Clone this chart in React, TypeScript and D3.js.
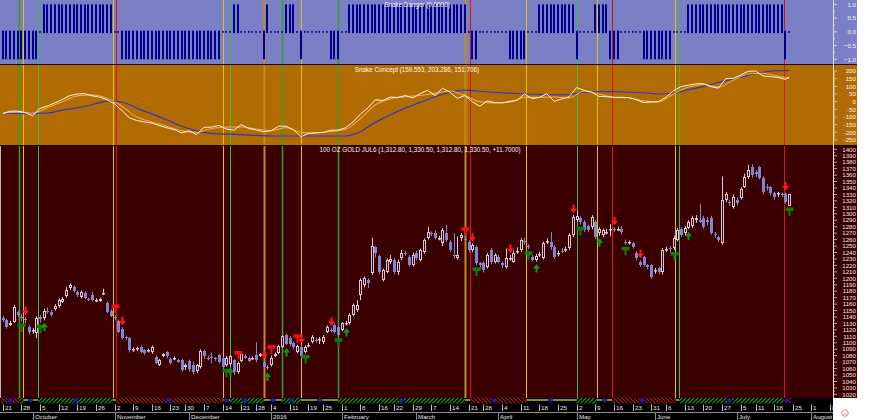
import React from "react";
import * as d3 from "d3";

// ---------------- data ----------------
const START_DATE = "2015-09-21";
const HOLIDAYS = ["2015-11-26", "2015-12-25", "2016-01-01", "2016-01-18", "2016-02-15", "2016-03-25", "2016-05-30", "2016-07-04"];
const MONTH_NAMES = ["January", "February", "March", "April", "May", "June", "July", "August", "September", "October", "November", "December"];

const OPEN = [
  1139, 1135, 1128, 1133, 1147, 1140, 1137, 1124, 1118, 1115,
  1140, 1138, 1150, 1148, 1153, 1157, 1164, 1172, 1185, 1186,
  1179, 1171, 1177, 1168, 1174, 1166, 1165, 1177, 1162, 1150,
  1140, 1134, 1122, 1109, 1107, 1089, 1090, 1094, 1089, 1088,
  1085, 1078, 1066, 1080, 1085, 1075, 1075, 1073, 1073, 1063,
  1072, 1066, 1057, 1063, 1087, 1077, 1078, 1076, 1081, 1076,
  1066, 1067, 1073, 1055, 1072, 1080, 1077, 1076, 1081, 1080,
  1070, 1063, 1065, 1080, 1084, 1094, 1112, 1108, 1100, 1086,
  1094, 1086, 1096, 1101, 1105, 1104, 1101, 1117, 1120, 1128,
  1124, 1120, 1130, 1130, 1143, 1151, 1174, 1190, 1197, 1208,
  1248, 1234, 1197, 1210, 1226, 1228, 1210, 1231, 1240, 1233,
  1221, 1240, 1228, 1241, 1263, 1270, 1271, 1262, 1254, 1270,
  1257, 1236, 1231, 1262, 1261, 1257, 1244, 1249, 1223, 1224,
  1218, 1244, 1226, 1233, 1224, 1218, 1230, 1226, 1241, 1244,
  1258, 1250, 1233, 1229, 1236, 1232, 1256, 1256, 1249, 1238,
  1243, 1244, 1247, 1267, 1290, 1293, 1287, 1281, 1280, 1287,
  1270, 1267, 1272, 1275, 1276, 1276, 1277, 1257, 1255, 1254,
  1240, 1226, 1233, 1220, 1220, 1211, 1216, 1210, 1244, 1247,
  1247, 1260, 1276, 1270, 1278, 1281, 1291, 1291, 1293, 1290,
  1294, 1269, 1264, 1255, 1322, 1318, 1311, 1322, 1325, 1342,
  1357, 1372, 1365, 1372, 1356, 1342, 1341, 1332, 1331, 1331,
  1331, 1312.8,
];
const HIGH = [
  1142, 1137, 1134, 1159, 1150, 1145, 1140, 1127, 1123, 1141,
  1143, 1153, 1155, 1151, 1160, 1169, 1171, 1187, 1192, 1189,
  1181, 1181, 1180, 1170, 1179, 1169, 1170, 1184, 1164, 1152,
  1143, 1136, 1124, 1111, 1109, 1093, 1094, 1096, 1090, 1091,
  1096, 1080, 1075, 1084, 1087, 1077, 1079, 1075, 1075, 1068,
  1074, 1070, 1067, 1090, 1089, 1080, 1085, 1078, 1083, 1078,
  1080, 1081, 1075, 1071, 1085, 1082, 1079, 1079, 1101, 1084,
  1072, 1065, 1080, 1085, 1097, 1112, 1114, 1110, 1102, 1097,
  1096, 1096, 1100, 1112, 1108, 1109, 1112, 1127, 1123, 1130,
  1126, 1132, 1134, 1146, 1161, 1166, 1200, 1203, 1200, 1263,
  1250, 1237, 1215, 1231, 1236, 1232, 1229, 1244, 1243, 1236,
  1240, 1243, 1246, 1262, 1280, 1273, 1274, 1266, 1278, 1283,
  1259, 1270, 1265, 1270, 1263, 1259, 1254, 1251, 1225, 1226,
  1239, 1247, 1239, 1236, 1226, 1246, 1236, 1243, 1248, 1262,
  1263, 1253, 1236, 1238, 1241, 1257, 1262, 1272, 1251, 1243,
  1247, 1249, 1270, 1298, 1305, 1296, 1290, 1283, 1298, 1290,
  1279, 1277, 1276, 1284, 1279, 1280, 1281, 1260, 1259, 1256,
  1242, 1228, 1235, 1222, 1222, 1216, 1218, 1247, 1249, 1250,
  1266, 1278, 1279, 1281, 1290, 1297, 1298, 1316, 1297, 1295,
  1297, 1272, 1266, 1358, 1334, 1322, 1330, 1325, 1341, 1362,
  1376, 1377, 1368, 1374, 1358, 1346, 1343, 1334, 1334, 1333,
  1333, 1330.5,
];
const LOW = [
  1132, 1122, 1126, 1131, 1140, 1133, 1130, 1113, 1114, 1107,
  1131, 1135, 1145, 1141, 1150, 1154, 1162, 1170, 1182, 1178,
  1171, 1169, 1168, 1165, 1164, 1163, 1163, 1174, 1146, 1140,
  1135, 1115, 1105, 1104, 1085, 1086, 1087, 1084, 1081, 1085,
  1083, 1067, 1064, 1078, 1076, 1067, 1073, 1069, 1055, 1058,
  1055, 1051, 1053, 1060, 1075, 1073, 1068, 1072, 1068, 1060,
  1063, 1065, 1050, 1052, 1070, 1075, 1070, 1074, 1070, 1078,
  1060, 1058, 1063, 1078, 1082, 1092, 1096, 1095, 1090, 1084,
  1076, 1084, 1093, 1099, 1100, 1098, 1098, 1115, 1116, 1114,
  1110, 1118, 1127, 1128, 1141, 1148, 1166, 1186, 1185, 1205,
  1232, 1206, 1195, 1208, 1222, 1206, 1205, 1228, 1235, 1218,
  1218, 1228, 1226, 1238, 1260, 1265, 1260, 1259, 1250, 1256,
  1241, 1230, 1229, 1258, 1257, 1240, 1241, 1220, 1215, 1209,
  1215, 1222, 1223, 1223, 1216, 1215, 1227, 1224, 1238, 1241,
  1252, 1245, 1226, 1226, 1233, 1229, 1253, 1244, 1230, 1234,
  1239, 1241, 1244, 1264, 1287, 1283, 1272, 1272, 1276, 1261,
  1266, 1264, 1268, 1265, 1272, 1273, 1268, 1252, 1252, 1246,
  1228, 1218, 1218, 1214, 1199, 1207, 1206, 1206, 1241, 1240,
  1244, 1257, 1264, 1266, 1276, 1278, 1286, 1286, 1277, 1282,
  1267, 1263, 1256, 1252, 1318, 1312, 1308, 1313, 1322, 1340,
  1354, 1356, 1357, 1353, 1330, 1336, 1328, 1322, 1326, 1326,
  1316, 1312.8,
];
const CLOSE = [
  1135, 1125, 1131, 1156, 1143, 1138, 1135, 1116, 1120, 1139,
  1137, 1150, 1148, 1143, 1157, 1166, 1168, 1182, 1190, 1180,
  1174, 1179, 1170, 1167, 1166, 1167, 1168, 1177, 1148, 1142,
  1138, 1117, 1108, 1107, 1089, 1090, 1092, 1086, 1084, 1089,
  1094, 1069, 1073, 1082, 1079, 1069, 1077, 1071, 1058, 1065,
  1059, 1055, 1065, 1087, 1080, 1076, 1077, 1075, 1071, 1063,
  1077, 1079, 1055, 1068, 1082, 1077, 1072, 1077, 1073, 1082,
  1062, 1061, 1077, 1082, 1095, 1110, 1098, 1098, 1094, 1095,
  1079, 1094, 1097, 1109, 1104, 1106, 1109, 1124, 1119, 1117,
  1112, 1130, 1131, 1143, 1159, 1158, 1197, 1200, 1192, 1250,
  1239, 1210, 1213, 1228, 1230, 1210, 1226, 1240, 1239, 1221,
  1236, 1231, 1244, 1259, 1272, 1269, 1263, 1262, 1275, 1259,
  1244, 1234, 1236, 1267, 1260, 1244, 1252, 1223, 1221, 1213,
  1236, 1226, 1236, 1226, 1220, 1232, 1232, 1240, 1243, 1259,
  1256, 1248, 1229, 1235, 1238, 1254, 1258, 1249, 1233, 1240,
  1242, 1246, 1267, 1295, 1297, 1287, 1275, 1275, 1295, 1264,
  1276, 1275, 1272, 1276, 1275, 1277, 1272, 1255, 1256, 1249,
  1231, 1221, 1221, 1217, 1202, 1213, 1210, 1244, 1246, 1245,
  1262, 1275, 1267, 1278, 1287, 1293, 1294, 1288, 1280, 1288,
  1270, 1267, 1260, 1321, 1331, 1316, 1326, 1317, 1338, 1357,
  1368, 1360, 1362, 1356, 1334, 1340, 1332, 1326, 1332, 1330,
  1318.8, 1330.5,
];

// Snake Danger: one value per bar (+1 / 0 / -1)
const DANGER = [
  -1, -1, -1, -1, -1, -1, -1, -1, -1, -1,
  0, 1, 1, 1, 1, 1, 1, 1, 1, 1,
  1, 1, 1, 1, 1, 1, 1, 1, 1, 1,
  0, 0, -1, -1, -1, -1, -1, -1, -1, -1,
  -1, -1, -1, -1, -1, -1, -1, -1, -1, -1,
  -1, -1, -1, -1, -1, -1, -1, -1, -1, 0,
  0, 0, 1, 1, 0, 0, 0, 0, 0, 0,
  -1, 1, 0, 0, 0, 0, 1, 1, 1, 0,
  -1, 0, 0, 0, 0, 0, 0, 0, -1, -1,
  -1, 0, 0, 1, 1, 1, 1, 1, 1, 1,
  1, 1, 1, 1, 1, 1, 1, 1, 1, 1,
  1, 1, 1, 1, 1, 1, 1, 1, 1, 1,
  1, 1, 1, 1, 1, 0, -1, -1, 0, 0,
  0, 0, 0, 0, 0, 0, -1, -1, -1, -1,
  -1, 0, 0, 0, 1, 1, 1, 1, 1, 1,
  1, 1, 1, 1, -1, 0, 0, 0, 0, 1,
  1, 1, 1, -1, -1, -1, 0, 0, 0, 0,
  0, 0, -1, -1, -1, -1, -1, -1, -1, -1,
  0, 0, 0, 0, 1, 1, 1, 1, 1, 1,
  1, 1, 1, 1, 1, 1, 1, 1, 1, 1,
  1, 1, 1, 1, 1, 1, 1, 1, 1, 1,
  -1, 0,
];

// Snake Concept lines, sampled every FAST_STEP / SLOW_STEP bars (last value = last bar)
const FAST_STEP = 2;
const CONCEPT_FAST = [
  -78, -62, -62, -70, -92, -44, -28, -8, 14, 40,
  50, 52, 38, 30, 12, -14, -58, -105, -123, -132,
  -140, -155, -170, -182, -204, -190, -215, -168, -166, -155,
  -178, -186, -150, -174, -185, -196, -190, -160, -160, -182,
  -228, -208, -202, -200, -186, -186, -170, -132, -80, -40,
  12, 8, 30, 28, 40, 24, 52, 74, 40, 88,
  62, 22, 40, 0, -30, 5, -6, -8, 2, 8,
  50, 20, 28, 52, 2, 18, 32, 92, 74, 62,
  34, 33, 27, 27, 27, 12, -6, -2, 0, 30,
  72, 98, 108, 116, 118, 98, 88, 150, 152, 174,
  198, 200, 168, 163, 158, 145,
  159.553,
];
const SLOW_STEP = 4;
const CONCEPT_SLOW = [
  -75, -68, -75, -40, 0, 38, 44, 22, -30, -100,
  -132, -160, -190, -200, -175, -165, -165, -178, -188, -170,
  -200, -205, -195, -180, -110, -20, 18, 32, 40, 55,
  70, 40, 0, -8, -4, 28, 28, 30, 25, 70,
  50, 30, 26, 5, -2, 50, 95, 112, 95, 140,
  180, 185, 165,
  151.706,
];
const CONCEPT_BASE = [
  -76, -76, -76, -74, -55, -40, -20, 4, -2, -42,
  -80, -118, -160, -190, -207, -212, -215, -220, -224, -224,
  -224, -224, -224, -224, -195, -135, -85, -42, -5, 32,
  60, 75, 68, 60, 56, 50, 47, 45, 46, 62,
  65, 65, 62, 58, 50, 55, 78, 98, 125, 148,
  172, 192, 202,
  203.286,
];

// signal lines (bar index) and their kind
const SIGNAL_IDX = [4.5, 5.5, 9.5, 29.5, 30.5, 59, 61, 70, 75, 80, 90, 124, 125.5, 140.5, 154, 159.5, 163.5, 180.5, 181.5, 209.5];
const SIGNAL_KIND = ["G", "y", "g", "y", "r", "y", "g", "o", "G", "y", "G", "o", "r", "y", "g", "y", "r", "y", "g", "r"];
const STRIP_DOTS = [2, 7.5, 19.5, 44.5, 60, 65, 72.5, 77.5, 85, 107, 132, 147, 161.5, 171.5, 195, 210.5];

const RED_ARROWS = [6, 32, 70, 80, 88, 126, 136, 153, 164, 171, 210];
const GREEN_ARROWS = [11, 61, 71, 76, 92, 143, 160, 184];
const RED_FLAGS = [30, 63, 72, 79, 124];
const GREEN_FLAGS = [5, 10, 60, 81, 90, 127, 141, 155, 167, 180, 211];

const TOP_TICKS = [1, 0.5, 0, -0.5, -1];
const MID_TICKS = [200, 150, 100, 50, 0, -50, -100, -150, -200, -250];
const PRICE_TICKS = d3.range(1020, 1401, 10);

const TITLE_TOP = "Snake Danger (0.0000)";
const TITLE_MID = "Snake Concept (159.553, 203.286, 151.706)";
const TITLE_PRICE = "100 OZ GOLD JUL6 (1,312.80, 1,330.50, 1,312.80, 1,330.50, +11.7000)";

// ---------------- layout / style ----------------
const PLOT_R = 833;
const AXIS_R = 857;
const TOP_Y0 = 0, TOP_Y1 = 64;
const MID_Y0 = 64, MID_Y1 = 145;
const PR_Y0 = 145, PR_Y1 = 398;
const STRIP_Y1 = 404;

const C_TOP = "#7b80c6";
const C_MID = "#b06c02";
const C_PRICE = "#3a0000";
const C_BAR = "#00008c";
const UP_COL = "#dcc6dc";
const DN_COL = "#7f86d6";
const FONT = "'Liberation Sans', Arial, sans-serif";
const KIND_COL: Record<string, string> = { g: "#3cc03c", G: "#3a9c2a", y: "#e2c400", r: "#e01010", o: "#c48a1c" };
const KIND_W: Record<string, number> = { g: 1, G: 1.5, y: 1, r: 1, o: 2 };

function tradingDays(start: string, count: number, holidays: string[]) {
  const out: Date[] = [];
  const hs = new Set(holidays);
  const d = new Date(start + "T00:00:00Z");
  while (out.length < count) {
    const wd = d.getUTCDay();
    const iso = d.toISOString().slice(0, 10);
    if (wd !== 0 && wd !== 6 && !hs.has(iso)) out.push(new Date(d.getTime()));
    d.setUTCDate(d.getUTCDate() + 1);
  }
  return out;
}

export default function App() {
  const n = CLOSE.length;
  const x = d3.scaleLinear().domain([0, n - 1]).range([2.7, 789.1]);
  const yTop = d3.scaleLinear().domain([-1, 1]).range([59.3, 4.4]);
  const yMid = d3.scaleLinear().domain([-250, 200]).range([140.0, 71.0]);
  const yP = d3.scaleLinear().domain([1020, 1400]).range([394.4, 149.3]);
  const px = (i: number) => Math.round(x(i));

  const days = tradingDays(START_DATE, 226, HOLIDAYS);
  const lastAxisIdx = days.length - 1;

  const weekLabels: { i: number; t: string }[] = [];
  const monthLabels: { i: number; t: string }[] = [];
  days.forEach((d, i) => {
    const prev = i > 0 ? days[i - 1] : null;
    if (!prev || d.getUTCDay() <= prev.getUTCDay()) weekLabels.push({ i, t: String(d.getUTCDate()) });
    if (prev && d.getUTCMonth() !== prev.getUTCMonth()) {
      const m = d.getUTCMonth();
      monthLabels.push({ i, t: m === 0 ? String(d.getUTCFullYear()) : MONTH_NAMES[m] });
    }
  });

  const sampleIdx = (k: number, step: number) => Math.min(k * step, n - 1);
  const fastLine = d3.line<number>().x((_, k) => x(sampleIdx(k, FAST_STEP))).y((v) => yMid(v));
  const smoothLine = d3
    .line<number>()
    .x((_, k) => x(sampleIdx(k, SLOW_STEP)))
    .y((v) => yMid(v))
    .curve(d3.curveMonotoneX);

  // strip segments from signals
  const stateOf = (k: string) => (k === "g" || k === "G" ? "up" : k === "r" ? "down" : "flat");
  const segs: { a: number; b: number; s: string }[] = [];
  let prevIdx = -0.5;
  let st = "down";
  SIGNAL_IDX.forEach((si, k) => {
    segs.push({ a: prevIdx, b: si, s: st });
    prevIdx = si;
    st = stateOf(SIGNAL_KIND[k]);
  });
  segs.push({ a: prevIdx, b: n - 0.5, s: st });

  const arrowDown = (cx: number, tip: number) =>
    `M${cx - 1},${tip - 8.5}h2v4h2.5l-3.5,4.5l-3.5,-4.5h2.5z`;
  const arrowUp = (cx: number, tip: number) =>
    `M${cx},${tip}l3.5,4.5h-2.5v4h-2v-4h-2.5z`;
  const flag = (cx: number, top: number) =>
    `M${cx - 4},${top}h8v3.5h-3v5h-2v-5h-3z`;

  return (
    <svg
      width={880}
      height={420}
      viewBox="0 0 880 420"
      style={{ position: "absolute", left: 0, top: 0, display: "block", background: "#ffffff" }}
      fontFamily={FONT}
    >
      <defs>
        <clipPath id="clipTop"><rect x={0} y={TOP_Y0} width={PLOT_R} height={TOP_Y1 - TOP_Y0} /></clipPath>
        <clipPath id="clipMid"><rect x={0} y={MID_Y0} width={PLOT_R} height={MID_Y1 - MID_Y0} /></clipPath>
        <clipPath id="clipPrice"><rect x={0} y={PR_Y0} width={PLOT_R} height={PR_Y1 - PR_Y0} /></clipPath>
        <clipPath id="clipAxis"><rect x={0} y={PR_Y1} width={PLOT_R} height={420 - PR_Y1} /></clipPath>
        <pattern id="hatchUp" width={4} height={4} patternUnits="userSpaceOnUse">
          <path d="M-1,1 l2,-2 M0,4 l4,-4 M3,5 l2,-2" stroke="#1f9e1f" strokeWidth={1.1} />
        </pattern>
        <pattern id="hatchDn" width={4} height={4} patternUnits="userSpaceOnUse">
          <path d="M-1,3 l2,2 M0,0 l4,4 M3,-1 l2,2" stroke="#c81414" strokeWidth={1.1} />
        </pattern>
      </defs>

      {/* panel backgrounds */}
      <rect x={0} y={TOP_Y0} width={AXIS_R} height={TOP_Y1 - TOP_Y0} fill={C_TOP} />
      <rect x={0} y={MID_Y0} width={AXIS_R} height={MID_Y1 - MID_Y0} fill={C_MID} />
      <rect x={0} y={PR_Y0} width={AXIS_R} height={PR_Y1 - PR_Y0} fill={C_PRICE} />
      <rect x={0} y={PR_Y1} width={PLOT_R} height={420 - PR_Y1} fill="#000000" />

      {/* signal lines */}
      <g clipPath="url(#clipAxis)" />
      {SIGNAL_IDX.map((si, k) => {
        const xx = Math.round(x(si)) + 0.5;
        return (
          <line
            key={"sig" + k}
            x1={xx}
            x2={xx}
            y1={0}
            y2={PR_Y1}
            stroke={KIND_COL[SIGNAL_KIND[k]]}
            strokeWidth={KIND_W[SIGNAL_KIND[k]]}
          />
        );
      })}

      {/* Snake Danger bars */}
      <g clipPath="url(#clipTop)">
        {DANGER.map((v, i) => {
          const r = px(i);
          if (v > 0) return <rect key={i} x={r - 1} y={yTop(1)} width={2} height={yTop(0) + 1.2 - yTop(1)} fill={C_BAR} />;
          if (v < 0) return <rect key={i} x={r - 1} y={yTop(0) - 1.2} width={2} height={yTop(-1) - yTop(0) + 1.2} fill={C_BAR} />;
          return <rect key={i} x={r - 1} y={yTop(0) - 0.6} width={2} height={1.4} fill={C_BAR} />;
        })}
      </g>

      {/* Snake Concept lines */}
      <g clipPath="url(#clipMid)" fill="none">
        <path d={smoothLine(CONCEPT_BASE) || ""} stroke="#3434c8" strokeWidth={1.2} />
        <path d={smoothLine(CONCEPT_SLOW) || ""} stroke="#f2a650" strokeWidth={1.1} />
        <path d={fastLine(CONCEPT_FAST) || ""} stroke="#fff4e0" strokeWidth={1} />
      </g>

      {/* candles */}
      <g clipPath="url(#clipPrice)">
        {CLOSE.map((c, i) => {
          const o = OPEN[i], h = HIGH[i], l = LOW[i];
          const r = px(i);
          const up = c >= o;
          const y1 = Math.round(yP(Math.max(o, c)));
          const y2 = Math.round(yP(Math.min(o, c)));
          const bh = Math.max(1, y2 - y1);
          const col = up ? UP_COL : DN_COL;
          return (
            <g key={"c" + i}>
              <line x1={r + 0.5} x2={r + 0.5} y1={yP(h)} y2={yP(l)} stroke={col} strokeWidth={1} />
              {up ? (
                <rect x={r - 0.5} y={y1 + 0.5} width={2} height={Math.max(0.5, bh - 1)} fill={C_PRICE} stroke={col} strokeWidth={1} />
              ) : (
                <rect x={r - 1} y={y1} width={3} height={bh} fill={col} />
              )}
            </g>
          );
        })}

        {/* markers */}
        {RED_FLAGS.map((i) => (
          <path key={"rf" + i} d={flag(px(i) + 0.5, yP(HIGH[i]) - 10.5)} fill="#ee1111" />
        ))}
        {RED_ARROWS.map((i) => (
          <path key={"ra" + i} d={arrowDown(px(i) + 0.5, yP(HIGH[i]) - 2)} fill="#ff1a1a" />
        ))}
        {GREEN_FLAGS.map((i) => (
          <path key={"gf" + i} d={flag(px(i) + 0.5, yP(LOW[i]) + 2)} fill="#0b7d0b" />
        ))}
        {GREEN_ARROWS.map((i) => (
          <path key={"ga" + i} d={arrowUp(px(i) + 0.5, yP(LOW[i]) + 2.5)} fill="#12961a" />
        ))}
      </g>

      {/* left edge */}
      <line x1={0.5} x2={0.5} y1={PR_Y0} y2={PR_Y1} stroke="#b8b8b8" strokeWidth={1} />

      {/* panel separators */}
      <line x1={0} x2={AXIS_R} y1={TOP_Y1 + 0.5} y2={TOP_Y1 + 0.5} stroke="#1a0a00" strokeWidth={1} />
      <line x1={0} x2={AXIS_R} y1={MID_Y1 + 0.5} y2={MID_Y1 + 0.5} stroke="#200000" strokeWidth={1} />

      {/* bottom strip */}
      <g clipPath="url(#clipAxis)">
        {segs.map((s, k) => {
          const xa = x(s.a), xb = x(s.b);
          if (s.s === "flat")
            return <rect key={"sg" + k} x={xa} y={PR_Y1 + 1} width={Math.max(0, xb - xa)} height={2} fill="#8c8a10" />;
          return (
            <rect
              key={"sg" + k}
              x={xa}
              y={PR_Y1}
              width={Math.max(0, xb - xa)}
              height={STRIP_Y1 - PR_Y1 - 0.5}
              fill={s.s === "up" ? "url(#hatchUp)" : "url(#hatchDn)"}
            />
          );
        })}
        {STRIP_DOTS.map((di, k) => (
          <circle key={"dt" + k} cx={x(di)} cy={PR_Y1 + 2.2} r={2.2} fill="#1c1cd0" stroke="#05055a" strokeWidth={0.6} />
        ))}

        {/* date axis */}
        {weekLabels.map((w) => {
          const xx = Math.round(x(w.i)) + 0.5;
          return (
            <g key={"w" + w.i}>
              <line x1={xx} x2={xx} y1={404.5} y2={411} stroke="#bdbdbd" strokeWidth={1} />
              <text x={xx + 1.5} y={410.3} fontSize={6.2} fill="#e6e6e6">{w.t}</text>
            </g>
          );
        })}
        <line x1={0} x2={PLOT_R} y1={412.5} y2={412.5} stroke="#8a8a8a" strokeWidth={1} />
        {monthLabels.map((m) => {
          const xx = Math.round(x(m.i)) + 0.5;
          return (
            <g key={"m" + m.i}>
              <line x1={xx} x2={xx} y1={412.5} y2={420} stroke="#8a8a8a" strokeWidth={1} />
              <text x={xx + 1.5} y={419.2} fontSize={6.2} fill="#e6e6e6">{m.t}</text>
            </g>
          );
        })}
      </g>

      {/* right axes */}
      <line x1={PLOT_R + 0.5} x2={PLOT_R + 0.5} y1={0} y2={PR_Y1} stroke="#e4e4e4" strokeWidth={1} />
      {d3.range(-1, 1.001, 0.25).map((v) => (
        <line key={"tt" + v} x1={PLOT_R} x2={PLOT_R + (v % 0.5 === 0 ? 4 : 2)} y1={yTop(v)} y2={yTop(v)} stroke="#e4e4e4" strokeWidth={0.8} />
      ))}
      {TOP_TICKS.map((v) => (
        <text key={"tl" + v} x={AXIS_R - 1} y={yTop(v) + 2.2} fontSize={6.2} fill="#f4f4f4" textAnchor="end">
          {d3.format(".1f")(v)}
        </text>
      ))}
      {d3.range(-250, 201, 10).map((v) => (
        <line key={"mt" + v} x1={PLOT_R} x2={PLOT_R + (v % 50 === 0 ? 4 : 2)} y1={yMid(v)} y2={yMid(v)} stroke="#ead8c0" strokeWidth={0.7} />
      ))}
      {MID_TICKS.map((v) => (
        <text key={"ml" + v} x={AXIS_R - 1} y={yMid(v) + 2.2} fontSize={6.2} fill="#f4f4f4" textAnchor="end">
          {v}
        </text>
      ))}
      {d3.range(1020, 1401, 5).map((v) => (
        <line key={"pt" + v} x1={PLOT_R} x2={PLOT_R + (v % 10 === 0 ? 4 : 2)} y1={yP(v)} y2={yP(v)} stroke="#e0d0d0" strokeWidth={0.8} />
      ))}
      {PRICE_TICKS.map((v) => (
        <text key={"pl" + v} x={AXIS_R - 1} y={yP(v) + 2.2} fontSize={6.2} fill="#ece4e4" textAnchor="end">
          {v}
        </text>
      ))}

      {/* titles */}
      <text x={417} y={7.2} fontSize={6.3} fill="#f6f6ff" textAnchor="middle">{TITLE_TOP}</text>
      <text x={417} y={71.5} fontSize={6.3} fill="#fff6ea" textAnchor="middle">{TITLE_MID}</text>
      <text x={420} y={151.5} fontSize={6.3} fill="#f4eeee" textAnchor="middle">{TITLE_PRICE}</text>

      {/* small icon */}
      <circle cx={845} cy={413} r={3.3} fill="none" stroke="#f07878" strokeWidth={0.9} />
      <path d="M843.3,414.6 q1.7,-1.4 3.4,0" fill="none" stroke="#f07878" strokeWidth={0.7} />
    </svg>
  );
}
